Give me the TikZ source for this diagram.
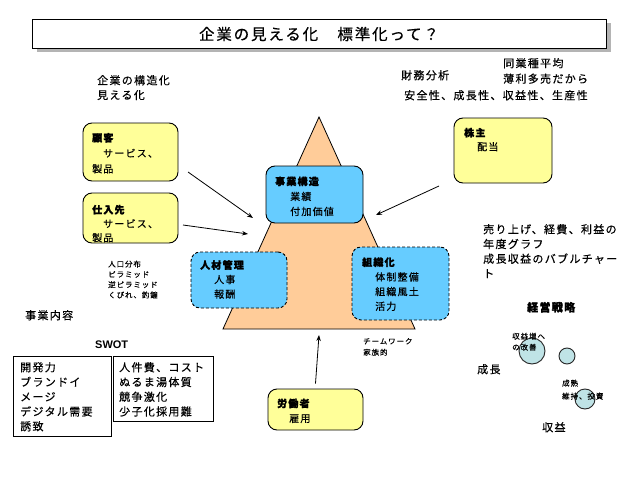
\documentclass[tikz,border=0pt]{standalone}
\usepackage{fontspec}
\setmainfont{Noto Sans CJK JP}[LetterSpace=12, UprightFeatures={FakeBold=0.4}, BoldFeatures={FakeBold=1.8}]
\newfontfamily\latfont{Liberation Sans}
\usetikzlibrary{arrows.meta}
\definecolor{yfill}{HTML}{FFFF99}
\definecolor{bfill}{HTML}{66CCFF}
\definecolor{trifill}{HTML}{FFCC99}
\definecolor{bubfill}{HTML}{BFE3E6}
\definecolor{shadowgray}{HTML}{B4B4B4}
\begin{document}
\begin{tikzpicture}[x=1pt,y=-1pt,
  jp/.style={inner sep=0pt, anchor=north west, align=left},
  free/.style={jp, font=\fontsize{11}{14.75}\selectfont},
  boxtxt/.style={jp, font=\fontsize{10}{14.75}\selectfont},
  small/.style={jp, font=\fontsize{7.5}{10.5}\selectfont},
  ybox/.style={draw=black, line width=0.9pt, fill=yfill, rounded corners=9pt, inner sep=0pt},
  bbox/.style={draw=black, line width=0.9pt, fill=bfill, rounded corners=9pt, inner sep=0pt},
  dbox/.style={bbox, dash pattern=on 3pt off 2pt},
  sbox/.style={draw=black, line width=0.9pt, fill=white, inner sep=0pt},
  bub/.style={circle, draw=black!85, line width=0.9pt, fill=bubfill, inner sep=0pt},
  arr/.style={-{Stealth[length=6pt,width=4.5pt]}, line width=0.8pt},
]
\useasboundingbox (0,0) rectangle (638,479);
\fill[white] (0,0) rectangle (638,479);

% title
\fill[shadowgray] (37,23) rectangle (611,52);
\node[sbox, minimum width=574pt, minimum height=29pt] (title) at (319,33.5) {};
\node[inner sep=0pt, font=\fontsize{15.5}{18}\selectfont] (titleT) at (319,34) {企業の見える化　標準化って？};

% top texts
\node[free] (kozo) at (97,73.9) {\strut 企業の構造化\\見える化};
\node[free] (zaimu) at (401,68.9) {\strut 財務分析};
\node[free, font=\fontsize{11}{15.5}\selectfont] (dogyo) at (503,56.3) {\strut 同業種平均\\薄利多売だから};
\node[free] (anzen) at (404,88.9) {\strut 安全性、成長性、収益性、生産性};

% triangle
\filldraw[fill=trifill, draw=black, line width=0.8pt] (319,117) -- (415,329) -- (223,329) -- cycle;
\coordinate (tribase) at (319,335);

% yellow boxes
\node[ybox, minimum width=95pt, minimum height=58pt] (kokyaku) at (130.5,152) {};
\node[boxtxt, font=\fontsize{10}{15.5}\selectfont] (kokyakuT) at (92,130.5) {\strut\textbf{顧客}\\\hspace{11pt}サービス、\\製品};
\node[ybox, minimum width=95pt, minimum height=50pt] (shiire) at (130.5,218) {};
\node[boxtxt, font=\fontsize{10}{14}\selectfont] (shiireT) at (92,203.5) {\strut\textbf{仕入先}\\\hspace{11pt}サービス、\\製品};
\node[ybox, minimum width=98pt, minimum height=65pt] (kabu) at (503,150.5) {};
\node[boxtxt, font=\fontsize{10}{14}\selectfont] (kabuT) at (464,126.5) {\strut\textbf{株主}\\\hspace{13pt}配当};
\node[ybox, minimum width=95pt, minimum height=41pt] (rodo) at (315.5,409.5) {};
\node[boxtxt, font=\fontsize{10}{15}\selectfont] (rodoT) at (277,396.5) {\strut\textbf{労働者}\\\hspace{12pt}雇用};

% blue boxes
\node[bbox, minimum width=97pt, minimum height=57pt] (jigyo) at (314.5,194.5) {};
\node[boxtxt, font=\fontsize{10}{15}\selectfont] (jigyoT) at (275,174.5) {\strut\textbf{事業構造}\\\hspace{15pt}業績\\\hspace{15pt}付加価値};
\node[dbox, minimum width=96pt, minimum height=56pt] (jinzai) at (239,280) {};
\node[boxtxt, font=\fontsize{10}{14.5}\selectfont] (jinzaiT) at (200,258.5) {\strut\textbf{人材管理}\\\hspace{14pt}人事\\\hspace{14pt}報酬};
\node[dbox, minimum width=97pt, minimum height=73pt] (soshiki) at (400.5,283.5) {};
\node[boxtxt, font=\fontsize{10}{14.7}\selectfont] (soshikiT) at (362,255.5) {\strut\textbf{組織化}\\\hspace{13pt}体制整備\\\hspace{13pt}組織風土\\\hspace{13pt}活力};

% arrows
\coordinate (a1s) at (188,172); \coordinate (a1e) at (253,218);
\coordinate (a2s) at (183,225); \coordinate (a2e) at (248,234);
\coordinate (a3s) at (439,186); \coordinate (a3e) at (376,215);
\draw[arr] (a1s) -- (a1e);
\draw[arr] (a2s) -- (a2e);
\draw[arr] (a3s) -- (a3e);
\draw[arr] ([yshift=5pt]rodo.north) -- (tribase);

% small texts
\node[small, font=\fontsize{7.5}{10.3}\selectfont] (jinko) at (108,259.5) {\strut 人口分布\\ピラミッド\\逆ピラミッド\\くびれ、釣鐘};
\node[small, font=\fontsize{7.5}{11}\selectfont] (team) at (363,336.2) {\strut チームワーク\\家族的};

% right texts
\node[free] (uriage) at (483,222.9) {\strut 売り上げ、経費、利益の\\年度グラフ\\成長収益のバブルチャー\\ト};
\node[free] (senryaku) at (527,300.9) {\strut\textbf{経営戦略}};

% bubbles
\node[bub, minimum size=26pt] (b1) at (532,351) {};
\node[bub, minimum size=16pt] (b2) at (567,356) {};
\node[bub, minimum size=20pt] (b3) at (585,399) {};
\node[small, font=\fontsize{7.5}{11}\selectfont] (b1T) at (512,331.2) {\strut 収益増へ\\の改善};
\node[small, font=\fontsize{7.5}{13}\selectfont] (b3T) at (562,376.7) {\strut 成熟\\維持、投資};
\node[free] (seicho) at (477,362.9) {\strut 成長};
\node[free] (shueki) at (542,420.9) {\strut 収益};

% left bottom
\node[free] (naiyo) at (25,308.9) {\strut 事業内容};
\node[inner sep=0pt, anchor=west, font=\latfont\bfseries\fontsize{11}{13}\selectfont] (swot) at (95,345) {SWOT};
\node[sbox, minimum width=98pt, minimum height=80pt] (swl) at (62,396) {};
\node[sbox, minimum width=100pt, minimum height=65pt] (swr) at (163,388.5) {};
\node[free] (swlT) at (20,360.9) {\strut 開発力\\ブランドイ\\メージ\\デジタル需要\\誘致};
\node[free] (swrT) at (119,360.9) {\strut 人件費、コスト\\ぬるま湯体質\\競争激化\\少子化採用難};
\end{tikzpicture}
\end{document}
